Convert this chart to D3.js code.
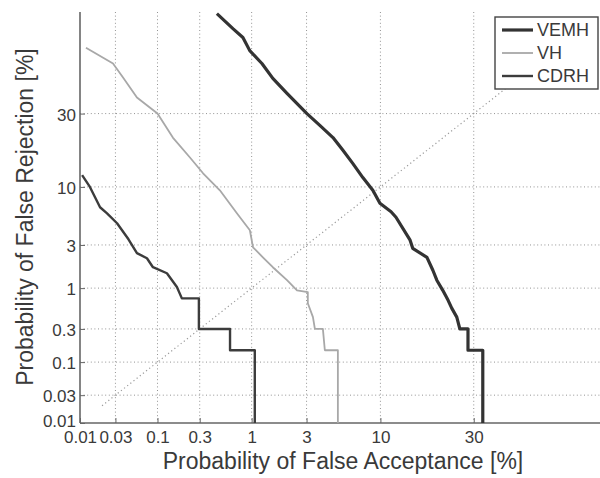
<!DOCTYPE html>
<html><head><meta charset="utf-8">
<script src="https://cdn.jsdelivr.net/npm/d3@7"></script>
<style>
html,body{margin:0;padding:0;background:#fff;}
svg{display:block;font-family:"Liberation Sans",Arial,sans-serif;}
</style></head>
<body><svg id="c" width="600" height="478"></svg>
<script>
// ---- data (percent) ----
const tickValues = [0.01, 0.03, 0.1, 0.3, 1, 3, 10, 30];
const tickLabels = ["0.01", "0.03", "0.1", "0.3", "1", "3", "10", "30"];
const seriesNames = ["VEMH", "VH", "CDRH"];

const vemhFA = [0.455, 0.66, 0.826, 0.96, 1.245, 1.56, 2.07, 3.02, 3.81, 4.78, 5.64, 6.62, 7.72, 8.96, 9.93, 11.6, 12.4, 14.9, 15.4, 18.3, 19.6, 20.5, 21.9, 23.2, 24.1, 25.4, 26.2, 28.4, 28.4, 32.6, 32.6];
const vemhFR = [69.4, 63.8, 60.3, 55.0, 49.7, 43.6, 37.6, 30.0, 25.9, 22.0, 18.3, 14.9, 11.8, 9.4, 7.34, 6.2, 5.54, 3.35, 2.77, 2.23, 1.61, 1.24, 0.94, 0.71, 0.566, 0.432, 0.3, 0.3, 0.15, 0.15, 0.01];

const vhFA = [0.0121, 0.0279, 0.0376, 0.0563, 0.100, 0.151, 0.235, 0.326, 0.488, 0.722, 0.962, 1.03, 1.27, 1.56, 2.07, 2.51, 3.07, 3.07, 3.37, 3.49, 4.02, 4.16, 5.19, 5.19];
const vhFR = [56.2, 49.7, 44.0, 36.0, 30.0, 22.0, 16.4, 12.7, 9.4, 6.01, 4.19, 2.84, 2.23, 1.74, 1.24, 0.94, 0.894, 0.653, 0.432, 0.3, 0.3, 0.15, 0.15, 0.01];

const cdrhFA = [0.0107, 0.0137, 0.0161, 0.0188, 0.0233, 0.0315, 0.0441, 0.0563, 0.0747, 0.0883, 0.129, 0.168, 0.191, 0.294, 0.294, 0.618, 0.618, 1.07, 1.07];
const cdrhFR = [12.3, 10.0, 8.24, 6.79, 6.01, 4.88, 3.42, 2.47, 2.18, 1.74, 1.49, 1.03, 0.75, 0.75, 0.3, 0.3, 0.15, 0.15, 0.01];

const diagonal = [0.02, 60];
const axisMin = 0.01, axisMax = 70;

// ---- probit (inverse normal CDF, Acklam) ----
function probit(p){
  const a=[-3.969683028665376e+01,2.209460984245205e+02,-2.759285104469687e+02,1.383577518672690e+02,-3.066479806614716e+01,2.506628277459239e+00];
  const b=[-5.447609879822406e+01,1.615858368580409e+02,-1.556989798598866e+02,6.680131188771972e+01,-1.328068155288572e+01];
  const c=[-7.784894002430293e-03,-3.223964580411365e-01,-2.400758277161838e+00,-2.549732539343734e+00,4.374664141464968e+00,2.938163982698783e+00];
  const d=[7.784695709041462e-03,3.224671290700398e-01,2.445134137142996e+00,3.754408661907416e+00];
  const pl=0.02425, ph=1-pl;
  if(p<pl){const q=Math.sqrt(-2*Math.log(p));return (((((c[0]*q+c[1])*q+c[2])*q+c[3])*q+c[4])*q+c[5])/((((d[0]*q+d[1])*q+d[2])*q+d[3])*q+1);}
  if(p<=ph){const q=p-0.5,r=q*q;return (((((a[0]*r+a[1])*r+a[2])*r+a[3])*r+a[4])*r+a[5])*q/(((((b[0]*r+b[1])*r+b[2])*r+b[3])*r+b[4])*r+1);}
  const q=Math.sqrt(-2*Math.log(1-p));return -(((((c[0]*q+c[1])*q+c[2])*q+c[3])*q+c[4])*q+c[5])/((((d[0]*q+d[1])*q+d[2])*q+d[3])*q+1);
}
const P = v => probit(v/100);

const L = 80, R = 603, T = 12, B = 423;
const xs = d3.scaleLinear().domain([P(axisMin), P(axisMax)]).range([L, R]);
const ys = d3.scaleLinear().domain([P(axisMin), P(axisMax)]).range([B, T]);
const X = v => xs(P(v)), Y = v => ys(P(v));

const svg = d3.select("#c");
const ink = "#3a3a3a";

svg.append("defs").append("clipPath").attr("id","clip")
  .append("rect").attr("x",L).attr("y",T).attr("width",600-L).attr("height",B-T);

// grid
const grid = svg.append("g");
tickValues.slice(1).forEach(v=>{
  grid.append("line").attr("x1",X(v)).attr("x2",X(v)).attr("y1",T).attr("y2",B)
    .attr("stroke","#939393").attr("stroke-width",1).attr("stroke-dasharray","1,2.6");
  grid.append("line").attr("y1",Y(v)).attr("y2",Y(v)).attr("x1",L).attr("x2",600)
    .attr("stroke","#939393").attr("stroke-width",1).attr("stroke-dasharray","1,2.6");
});

// axes
const xAxis = d3.axisBottom(xs).tickValues(tickValues.map(P)).tickSizeInner(-5).tickSizeOuter(0)
  .tickFormat((d,i)=>tickLabels[i]);
const yAxis = d3.axisLeft(ys).tickValues(tickValues.map(P)).tickSizeInner(-5).tickSizeOuter(0)
  .tickFormat((d,i)=>tickLabels[i]);

const gx = svg.append("g").attr("transform",`translate(0,${B})`).call(xAxis);
gx.select(".domain").attr("d",`M${L},0H600`).attr("stroke","#666").attr("stroke-width",1.6);
gx.selectAll(".tick line").attr("stroke","#666");
gx.selectAll(".tick text").attr("font-size",17).attr("fill",ink).attr("y",8).attr("dy","0.71em")
  .attr("font-family","Liberation Sans, Arial, sans-serif");

const gy = svg.append("g").attr("transform",`translate(${L},0)`).call(yAxis);
gy.select(".domain").attr("d",`M0,${B}V${T}`).attr("stroke","#666").attr("stroke-width",1.6);
gy.selectAll(".tick line").attr("stroke","#666");
gy.selectAll(".tick text").attr("font-size",17).attr("fill",ink).attr("x",-4)
  .attr("dy",(d,i)=> i===0 ? "0.2em" : "0.4em")
  .attr("font-family","Liberation Sans, Arial, sans-serif");

// diagonal
const plot = svg.append("g").attr("clip-path","url(#clip)");
plot.append("line").attr("x1",X(diagonal[0])).attr("y1",Y(diagonal[0]))
  .attr("x2",X(diagonal[1])).attr("y2",Y(diagonal[1]))
  .attr("stroke","#9a9a9a").attr("stroke-width",1.2).attr("stroke-dasharray","1.2,2.8");

// curves
const line = d3.line().x(d=>X(d[0])).y(d=>Y(d[1]));
const series = [
  {name:seriesNames[0], fa:vemhFA, fr:vemhFR, color:"#333", w:3.2},
  {name:seriesNames[1], fa:vhFA, fr:vhFR, color:"#a8a8a8", w:1.8},
  {name:seriesNames[2], fa:cdrhFA, fr:cdrhFR, color:"#3c3c3c", w:2.4}
];
series.forEach(s=>{
  plot.append("path").datum(d3.zip(s.fa, s.fr)).attr("d",line)
    .attr("fill","none").attr("stroke",s.color).attr("stroke-width",s.w)
    .attr("stroke-linejoin","round");
});

// axis labels
svg.append("text").attr("x",343).attr("y",469).attr("text-anchor","middle")
  .attr("font-size",23).attr("fill",ink).text("Probability of False Acceptance [%]");
svg.append("text").attr("transform","translate(33,217) rotate(-90)").attr("text-anchor","middle")
  .attr("font-size",23).attr("fill",ink).text("Probability of False Rejection [%]");

// legend
const lg = svg.append("g");
lg.append("rect").attr("x",495).attr("y",17).attr("width",103).attr("height",72)
  .attr("fill","#fff").attr("stroke","#444").attr("stroke-width",1.4);
series.forEach((s,i)=>{
  const yy = 30 + i*23;
  lg.append("line").attr("x1",502).attr("x2",533).attr("y1",yy).attr("y2",yy)
    .attr("stroke",s.color).attr("stroke-width",s.w);
  lg.append("text").attr("x",537).attr("y",yy).attr("dy","0.36em")
    .attr("font-size",18).attr("fill",ink).text(s.name);
});
</script></body></html>
